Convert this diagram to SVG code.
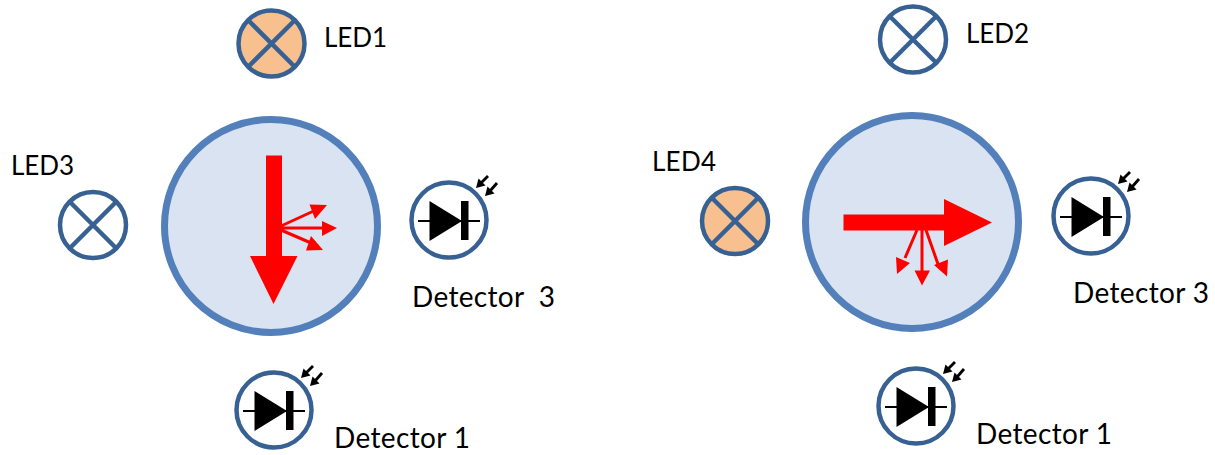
<svg xmlns="http://www.w3.org/2000/svg" width="1215" height="455" viewBox="0 0 1215 455">
<style>
.main{fill:#dae3f1;stroke:#5380bb;stroke-width:7}
.led{stroke:#386193;stroke-width:4.500}
.off{fill:#fff}
.on{fill:#f9c08f}
.det{fill:#fff;stroke:#386193;stroke-width:4.500}
.wire{stroke:#000;stroke-width:2;fill:none}
.ray{stroke:#000;stroke-width:2.800;fill:none}
.red{fill:#f00;stroke:none}
.redl{stroke:#f00;stroke-width:3;fill:none}
text{font-family:Lato,"Liberation Sans",sans-serif;font-size:26px;fill:#000}
.lbl{font-size:28px}
</style>
<defs>
<g id="ledx"><path class="led" d="M-23-23L23 23M-23 23L23-23"/></g>
<g id="diode">
<circle class="det" r="37.500"/>
<path class="wire" d="M-31 1H31"/>
<path d="M-19.500-19L13 1L-19.500 21Z"/>
<rect x="12" y="-19" width="7.500" height="39"/>
<path class="ray" d="M32-37L39-44"/><path d="M27-32L29.500-41.500L36.500-34.500Z"/>
<path class="ray" d="M41-29L48-37"/><path d="M36-24L38.500-33.500L45.500-26.500Z"/>
</g>
</defs>
<g id="sensor-left"><circle class="main" cx="271" cy="226" r="106.500"/></g>
<g id="sensor-right"><circle class="main" cx="912" cy="222" r="106.500"/></g>
<g id="led1"><circle class="led on" cx="271.500" cy="43.500" r="33"/><use href="#ledx" x="271.500" y="43.500"/><text x="324" y="47" textLength="63">LED1</text></g>
<g id="led2"><circle class="led off" cx="913" cy="39.500" r="33"/><use href="#ledx" x="913" y="39.500"/><text x="966" y="43" textLength="63">LED2</text></g>
<g id="led3"><circle class="led off" cx="93" cy="225" r="33"/><use href="#ledx" x="93" y="225"/><text x="11" y="175" textLength="63">LED3</text></g>
<g id="led4"><circle class="led on" cx="735" cy="221" r="33"/><use href="#ledx" x="735" y="221"/><text x="652" y="171" textLength="64">LED4</text></g>
<g id="detector3-left"><use href="#diode" x="449" y="220"/><text class="lbl" x="412" y="307" xml:space="preserve" textLength="143">Detector  3</text></g>
<g id="detector3-right"><use href="#diode" x="1091" y="216"/><text class="lbl" x="1073" y="303" textLength="136">Detector 3</text></g>
<g id="detector1-left"><use href="#diode" x="274" y="410"/><text class="lbl" x="334" y="448" textLength="136">Detector 1</text></g>
<g id="detector1-right"><use href="#diode" x="916" y="406"/><text class="lbl" x="976" y="444" textLength="136">Detector 1</text></g>
<g id="connectors">
<path class="red" d="M266 155.500H282V256H297.500L273.500 304L250 256H266Z"/>
<path class="redl" d="M281 226L318 209M281 228H322M281 230L318 246"/>
<path class="red" d="M309.500 204.500L327 205L315 219ZM322 221L337 228L322 236ZM311 236L323 250L306 250.500Z"/>
<path class="red" d="M843.500 214.500H944V199L992 222.500L944 246V230.500H843.500Z"/>
<path class="redl" d="M917 230L905 258M922 230V273M926 230L939 267"/>
<path class="red" d="M897 274L896 257L910 263ZM914.500 270.500H930L922 285.500ZM934 265L948 259.500L947 276.500Z"/>
</g>
</svg>
